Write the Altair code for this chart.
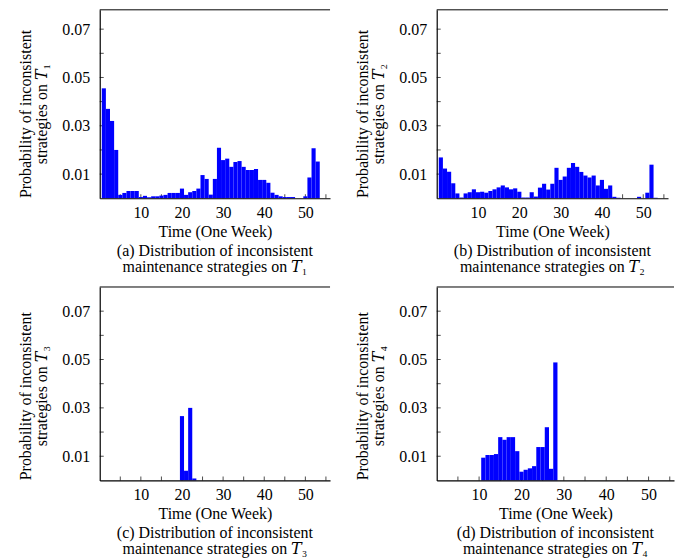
import altair as alt
import pandas as pd

# ---------------- data ----------------
weeks = list(range(1, 54))

prob_t1 = [0.0455, 0.037, 0.032, 0.020, 0.0014, 0.0022, 0.003, 0.003, 0.003, 0.0005,
           0.001, 0.0004, 0.0008, 0.0008, 0.0011, 0.0014, 0.0022, 0.0022, 0.0022, 0.004,
           0.0014, 0.0025, 0.003, 0.004, 0.0096, 0.008, 0.0015, 0.008, 0.0209, 0.0158,
           0.0164, 0.013, 0.015, 0.0154, 0.013, 0.0117, 0.0117, 0.0121, 0.0076, 0.0076,
           0.0064, 0.0023, 0.0014, 0.0008, 0.0005, 0.0005, 0.0005, 0.0, 0.0, 0.0008,
           0.0086, 0.0207, 0.0152]

prob_t2 = [0.0169, 0.0123, 0.011, 0.0062, 0.002, 0.0003, 0.002, 0.0025, 0.0037, 0.0025,
           0.0027, 0.0023, 0.003, 0.0037, 0.0045, 0.0053, 0.0045, 0.0037, 0.0041, 0.0027,
           0.0003, 0.0003, 0.0025, 0.0007, 0.0044, 0.006, 0.0036, 0.006, 0.0126, 0.0076,
           0.009, 0.0126, 0.0146, 0.013, 0.0109, 0.0094, 0.0086, 0.0094, 0.0053, 0.0076,
           0.0039, 0.0053, 0.0006, 0.0002, 0.0, 0.0, 0.0, 0.0, 0.0006, 0.0,
           0.0023, 0.0139, 0.0002]

prob_t3 = [0.0, 0.0, 0.0, 0.0, 0.0, 0.0, 0.0, 0.0, 0.0, 0.0,
           0.0, 0.0, 0.0, 0.0, 0.0, 0.0, 0.0, 0.0, 0.0, 0.0266,
           0.004, 0.030, 0.0008, 0.0, 0.0, 0.0, 0.0, 0.0, 0.0, 0.0,
           0.0, 0.0, 0.0, 0.0, 0.0, 0.0, 0.0, 0.0, 0.0, 0.0,
           0.0, 0.0, 0.0, 0.0, 0.0, 0.0, 0.0, 0.0, 0.0, 0.0,
           0.0, 0.0, 0.0]

prob_t4 = [0.0, 0.0, 0.0, 0.0, 0.0, 0.0, 0.0, 0.0, 0.0, 0.0,
           0.0094, 0.0105, 0.0105, 0.0109, 0.0179, 0.0168, 0.0179, 0.0179, 0.0121, 0.0036,
           0.0044, 0.005, 0.0059, 0.0138, 0.0138, 0.022, 0.0048, 0.0488, 0.0, 0.0,
           0.0, 0.0, 0.0, 0.0, 0.0, 0.0, 0.0, 0.0, 0.0, 0.0,
           0.0, 0.0, 0.0, 0.0, 0.0, 0.0, 0.0, 0.0, 0.0, 0.0,
           0.0, 0.0, 0.0]

y_tick_values = [0.01, 0.02, 0.03, 0.04, 0.05, 0.06, 0.07]
y_label_values = [0.01, 0.03, 0.05, 0.07]
x_tick_values = [5, 10, 15, 20, 25, 30, 35, 40, 45, 50, 55]
x_label_values = [10, 20, 30, 40, 50]

ylabel_line1 = "Probability of inconsistent"
ylabel_line2 = ["strategies on 𝑇₁", "strategies on 𝑇₂", "strategies on 𝑇₃", "strategies on 𝑇₄"]
caption_line1 = ["(a) Distribution of inconsistent", "(b) Distribution of inconsistent",
                 "(c) Distribution of inconsistent", "(d) Distribution of inconsistent"]
caption_line2 = ["maintenance strategies on 𝑇₁", "maintenance strategies on 𝑇₂",
                 "maintenance strategies on 𝑇₃", "maintenance strategies on 𝑇₄"]
x_title = "Time (One Week)"

FONT = "Liberation Serif, DejaVu Serif, serif"
BLUE = "#0000ff"


def panel(values, idx, width, height, ymax):
    df = pd.DataFrame({"week": weeks, "prob": values})
    xscale = alt.Scale(domain=[0, 56], nice=False, zero=False)
    yscale = alt.Scale(domain=[0, ymax], nice=False, zero=True)
    xaxis = alt.Axis(values=x_label_values, title=x_title, ticks=False, tickSize=0,
                     labelPadding=6, titlePadding=3, grid=False, labelFlush=False,
                     zindex=1)
    yaxis = alt.Axis(values=y_label_values, format=".2f",
                     title=[ylabel_line1, ylabel_line2[idx]], ticks=False, tickSize=0,
                     labelPadding=10, titlePadding=12.5, titleY=height - 85, grid=False,
                     zindex=1)

    xticks = alt.Chart(pd.DataFrame({"v": x_tick_values})).mark_tick(
        orient="vertical", size=4, thickness=1, color="black"
    ).encode(x=alt.X("v:Q", scale=xscale, axis=xaxis), y=alt.value(height - 2))

    yticks = alt.Chart(pd.DataFrame({"v": y_tick_values})).mark_tick(
        orient="horizontal", size=4, thickness=1, color="black"
    ).encode(y=alt.Y("v:Q", scale=yscale, axis=yaxis), x=alt.value(2))

    bars = alt.Chart(df).transform_calculate(
        x0="datum.week - 0.5", x1="datum.week + 0.5"
    ).mark_rect(color=BLUE).encode(
        x=alt.X("x0:Q", scale=xscale, axis=xaxis),
        x2="x1:Q",
        y=alt.Y("prob:Q", scale=yscale, axis=yaxis),
        y2=alt.datum(0),
    )

    top = alt.Chart(pd.DataFrame({"a": [0]})).mark_rule(color="black", strokeWidth=1).encode(
        x=alt.value(0), x2=alt.value(width), y=alt.value(0)
    )

    return alt.layer(xticks, yticks, bars, top).properties(
        width=width, height=height,
        title=alt.TitleParams(text=[caption_line1[idx], caption_line2[idx]], orient="bottom",
                              anchor="middle", offset=4, fontSize=16, font=FONT,
                              fontWeight="normal", lineHeight=16, color="black"),
    )


pa = panel(prob_t1, 0, 231, 189, 0.078)
pb = panel(prob_t2, 1, 232, 189, 0.078)
pc = panel(prob_t3, 2, 231, 194, 0.08)
pd_ = panel(prob_t4, 3, 238, 194, 0.08)

row1 = alt.hconcat(pa, pb, spacing=23)
row2 = alt.hconcat(pc, pd_, spacing=23)

chart = alt.vconcat(row1, row2, spacing=11).properties(
    padding={"left": 9, "top": 0, "right": 0, "bottom": 0}
).configure_view(stroke=None).configure_axis(
    domainColor="black", domainWidth=1.2, labelFont=FONT, labelFontSize=16,
    labelColor="black", titleFont=FONT, titleFontSize=16, titleFontWeight="normal",
    titleColor="black", titleLineHeight=16
)

chart.save("out.html", embed_options={"renderer": "svg", "actions": False})
